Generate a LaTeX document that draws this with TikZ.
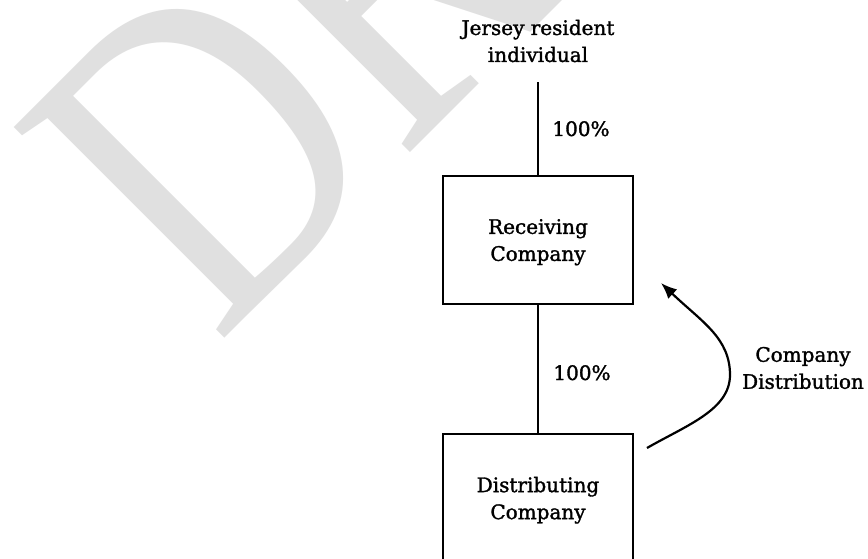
\documentclass[tikz,border=0pt]{standalone}
\usepackage{fontspec}
\setmainfont[FakeBold=1.5]{DejaVu Serif}
\newfontfamily\wmfont{Liberation Serif}
\usetikzlibrary{arrows.meta}
\definecolor{wmgray}{RGB}{224,224,224}
\begin{document}
\begin{tikzpicture}[x=1pt,y=-1pt,
  every node/.style={inner sep=0pt, outer sep=0pt},
  lbl/.style={font=\fontsize{20}{27}\selectfont, align=center},
  entity/.style={draw, line width=1.3pt, minimum width=190pt, minimum height=128pt,
                 lbl, text depth=0pt},
  link/.style={line width=1.3pt},
  flow/.style={line width=2.2pt, -{Latex[length=16pt,width=13pt]}}]
\useasboundingbox (0,0) rectangle (868,559);
\clip (0,0) rectangle (868,559);
\fill[white] (0,0) rectangle (868,559);

% watermark
\node[text=wmgray, font=\wmfont\fontsize{455}{455}\selectfont,
      rotate=45, xscale=0.79, anchor=base west] (wm) at (217.5,345.5) {DRAFT};

% ownership chain
\node[lbl] (jri) at (538,41) {Jersey resident\\individual};
\node[entity] (rc) at (538,240) {Receiving\\Company};
\node[entity] (dc) at (538,498) {Distributing\\Company};

\draw[link] ([yshift=-20pt]jri.south) -- (rc.north);
\draw[link] (rc.south) -- (dc.north);

\node[lbl, anchor=base] (p1) at (581,136) {100\%};
\node[lbl, anchor=base] (p2) at (582,380) {100\%};

% distribution flow
\node[lbl] (cd) at (803,368) {Company\\Distribution};
\coordinate (fs) at (647,448);
\coordinate (fm) at (730,375);
\coordinate (fe) at (661,283);
\draw[flow] (fs) .. controls (686,425.5) and (730,410) .. (fm)
                 .. controls (730,338) and (702,322) .. (fe);
\end{tikzpicture}
\end{document}
